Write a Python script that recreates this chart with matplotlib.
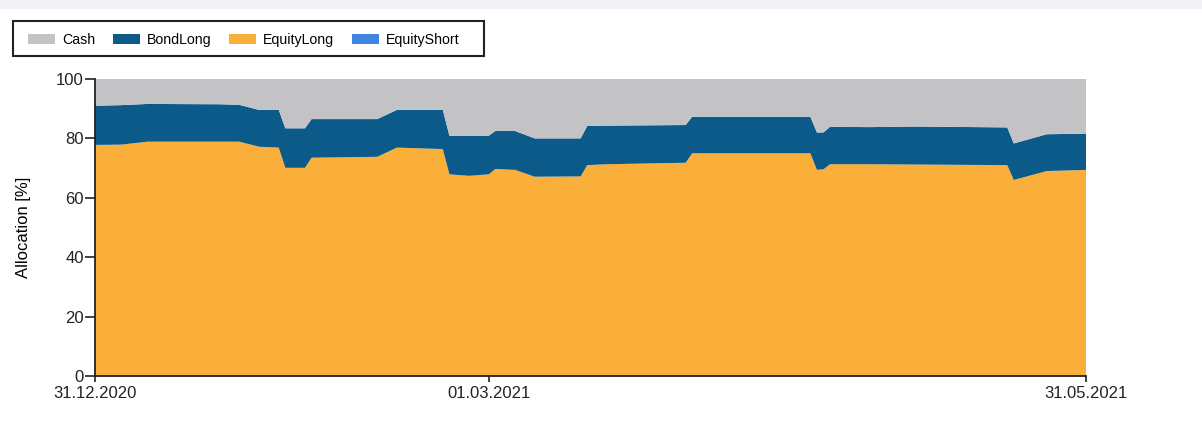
"""
Portfolio allocation over time: stacked area of Cash / BondLong / EquityLong / EquityShort.
"""

import matplotlib
matplotlib.use("Agg")
import matplotlib.pyplot as plt
import matplotlib.dates as mdates
from matplotlib.patches import Patch, Rectangle
import pandas as pd

# --- data (percent of portfolio) ---
dates = [
    "2020-12-31", "2021-01-04", "2021-01-08", "2021-01-19", "2021-01-22",
    "2021-01-25", "2021-01-28", "2021-01-29", "2021-02-01", "2021-02-02",
    "2021-02-12", "2021-02-15", "2021-02-22", "2021-02-23", "2021-02-26",
    "2021-03-01", "2021-03-02", "2021-03-05", "2021-03-08", "2021-03-15",
    "2021-03-16", "2021-03-19", "2021-03-31", "2021-04-01", "2021-04-19",
    "2021-04-20", "2021-04-21", "2021-04-22", "2021-04-28", "2021-05-05",
    "2021-05-19", "2021-05-20", "2021-05-25", "2021-05-31",
]
equity_long = [
    77.8, 77.9, 78.9, 78.9, 78.9, 77.2, 76.9, 70.1, 70.1, 73.5,
    73.8, 76.9, 76.4, 67.9, 67.4, 67.9, 69.7, 69.4, 67.1, 67.2,
    71.0, 71.3, 71.8, 75.0, 75.0, 69.4, 69.6, 71.3, 71.3, 71.2,
    71.0, 66.0, 69.0, 69.4,
]
bond_long = [
    13.2, 13.3, 12.7, 12.6, 12.4, 12.4, 12.7, 13.3, 13.3, 13.0,
    12.7, 12.7, 13.2, 13.0, 13.5, 13.0, 12.8, 13.1, 12.9, 12.8,
    13.2, 13.0, 12.7, 12.3, 12.3, 12.6, 12.4, 12.6, 12.5, 12.8,
    12.7, 12.3, 12.4, 12.2,
]
cash = [
    9.0, 8.8, 8.4, 8.5, 8.7, 10.4, 10.4, 16.6, 16.6, 13.5,
    13.5, 10.4, 10.4, 19.1, 19.1, 19.1, 17.5, 17.5, 20.0, 20.0,
    15.8, 15.7, 15.5, 12.7, 12.7, 18.0, 18.0, 16.1, 16.2, 16.0,
    16.3, 21.7, 18.6, 18.4,
]
equity_short = [0.0] * len(dates)

x_ticks = ["2020-12-31", "2021-03-01", "2021-05-31"]

# --- style ---
COLORS = {
    "Cash": "#C3C3C6",
    "BondLong": "#0B5A8A",
    "EquityLong": "#FAAF3A",
    "EquityShort": "#3D85E0",
}
plt.rcParams["font.family"] = ["Liberation Sans", "DejaVu Sans"]

W, H = 1202, 423
fig = plt.figure(figsize=(W / 100, H / 100), dpi=100)
fig.patches.append(Rectangle((0, 1 - 8 / H), 1, 8 / H, transform=fig.transFigure,
                             color="#F0F2F5", zorder=0))

ax = fig.add_axes([95 / W, 1 - 376 / H, (1086 - 95) / W, (376 - 79) / H])

x = pd.to_datetime(dates)
ax.stackplot(
    x, equity_short, equity_long, bond_long, cash,
    colors=[COLORS["EquityShort"], COLORS["EquityLong"], COLORS["BondLong"], COLORS["Cash"]],
    linewidth=0,
)

ax.set_xlim(pd.Timestamp(dates[0]), pd.Timestamp(dates[-1]))
ax.set_ylim(0, 100)
ax.set_yticks([0, 20, 40, 60, 80, 100])
ax.set_xticks(pd.to_datetime(x_ticks))
ax.xaxis.set_major_formatter(mdates.DateFormatter("%d.%m.%Y"))
ax.tick_params(axis="both", labelsize=12, colors="#222222", width=1.2)
ax.tick_params(axis="y", length=7, pad=1)
ax.tick_params(axis="x", length=4, pad=3)
ax.set_ylabel("Allocation [%]", fontsize=12, labelpad=18)

for side in ("top", "right"):
    ax.spines[side].set_visible(False)
for side in ("left", "bottom"):
    ax.spines[side].set_linewidth(1.3)
    ax.spines[side].set_color("#222222")

# legend box drawn by hand (fixed size like the original control)
fig.patches.append(Rectangle((13 / W, 1 - 56 / H), (484 - 13) / W, (56 - 21) / H,
                             transform=fig.transFigure, facecolor="white",
                             edgecolor="#222222", linewidth=1.5, zorder=1))

labels = ["Cash", "BondLong", "EquityLong", "EquityShort"]
handles = [Patch(facecolor=COLORS[k], edgecolor="none") for k in labels]
leg = fig.legend(
    handles, labels, ncol=4, loc="center left",
    bbox_to_anchor=(28 / W, 1 - 40 / H),
    frameon=False, fontsize=10.2,
    handlelength=1.9, handleheight=0.65, handletextpad=0.5,
    columnspacing=1.25, borderpad=0, borderaxespad=0,
)
leg.set_zorder(2)

fig.savefig("out.png", dpi=100)
